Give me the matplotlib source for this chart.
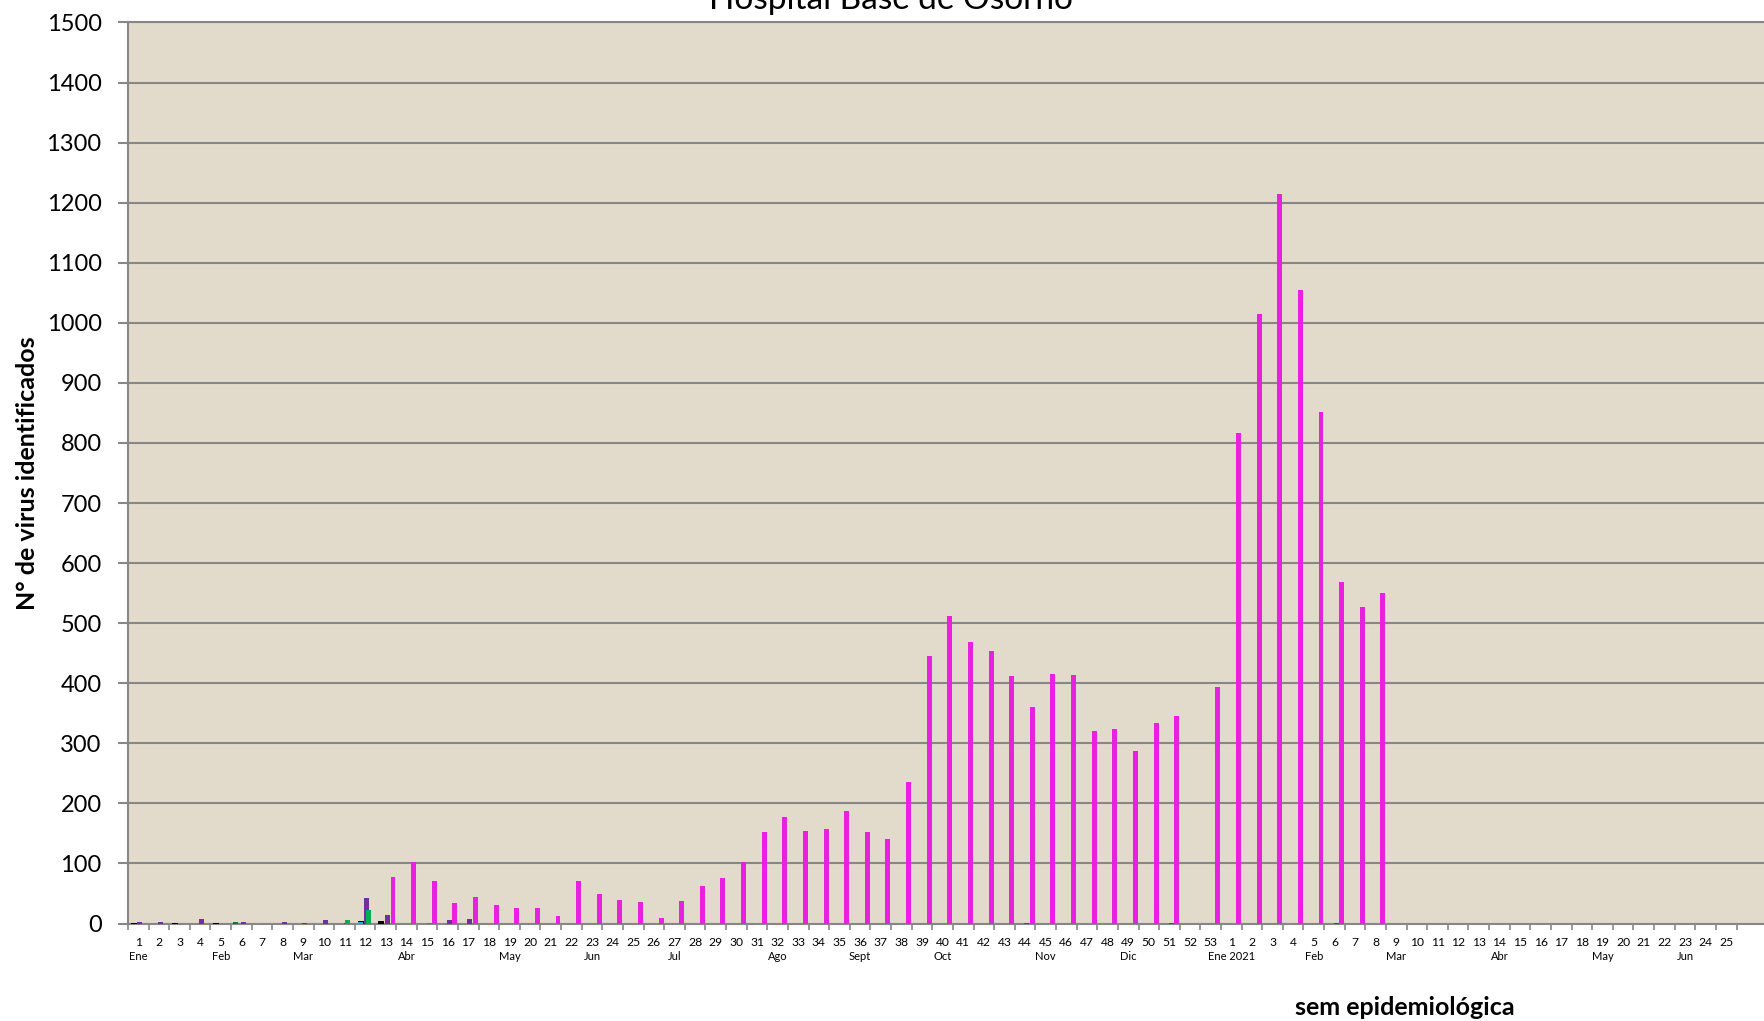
import numpy as np
import matplotlib
matplotlib.use('Agg')
import matplotlib.pyplot as plt
import matplotlib.transforms as mtransforms

plt.rcParams['font.family'] = ['Lato', 'DejaVu Sans']

# week labels: 2020 weeks 1..53, then 2021 weeks 1..25
weeks_2020 = list(range(1, 54))
weeks_2021 = list(range(1, 26))
week_labels = [str(w) for w in weeks_2020 + weeks_2021]
n = len(week_labels)

# month labels (category index starting at 1, label text)
month_pos = [1, 5, 9, 14, 19, 23, 27, 32, 36, 40, 45, 49,
             54, 58, 62, 67, 72, 76]
month_txt = ['Ene', 'Feb', 'Mar', 'Abr', 'May', 'Jun', 'Jul', 'Ago', 'Sept', 'Oct', 'Nov', 'Dic',
             'Ene 2021', 'Feb', 'Mar', 'Abr', 'May', 'Jun']

# main series (magenta), 2020 weeks 1..53
magenta_2020 = [0, 0, 0, 0, 0, 0, 0, 0, 0, 0, 0, 0, 77, 102, 71, 34, 44, 31, 25, 26,
                13, 71, 49, 39, 36, 9, 38, 62, 76, 102, 152, 178, 154, 157, 188, 153,
                140, 235, 445, 512, 469, 454, 412, 361, 416, 413, 321, 324, 287, 333,
                346, 0, 393]
# 2021 weeks 1..25
magenta_2021 = [817, 1014, 1215, 1055, 852, 569, 527, 551] + [0] * 17
magenta = magenta_2020 + magenta_2021

# small series, given as {category index: value}
gray_pts = {1: 1, 4: 1, 7: 1, 9: 1, 10: 1, 16: 1, 17: 1, 57: 1}
black_pts = {1: 1, 3: 1, 5: 1, 12: 4, 13: 4}
dkgreen_pts = {6: 2}
cyan_pts = {12: 2}
purple_pts = {1: 2, 2: 2, 4: 8, 6: 2, 8: 2, 9: 1, 10: 6, 11: 1, 12: 43, 13: 14,
              16: 5, 17: 8, 44: 1, 51: 1, 59: 1}
green_pts = {11: 6, 12: 22, 15: 1}


def expand(d):
    v = np.zeros(n)
    for k, val in d.items():
        v[k - 1] = val
    return v


x = np.arange(1, n + 1)

fig = plt.figure(figsize=(17.65, 10.21), dpi=100)
ax = fig.add_axes([128 / 1765, 97.5 / 1021, 1 - 128 / 1765, 901 / 1021])
ax.set_facecolor('#E2DACB')

bw = 0.24
ax.bar(x - 0.24, expand(gray_pts), bw, color='#8C8C8C', zorder=3)
ax.bar(x - 0.22, expand(black_pts), 0.3, color='black', zorder=3)
ax.bar(x - 0.29, expand(dkgreen_pts), bw, color='#0B7A2E', zorder=3)
ax.bar(x - 0.21, expand(cyan_pts), bw, color='#17B6D8', zorder=3)
ax.bar(x + 0.08, expand(purple_pts), bw, color='#7030A0', zorder=3)
ax.bar(x + 0.14, expand(green_pts), bw, color='#00B050', zorder=3)
ax.bar(x + 0.35, magenta, bw, color='#E820E0', zorder=3)

ax.set_ylim(0, 1500)
ax.set_xlim(0.5, 0.5 + (1765 - 128.2) / 20.62)
ax.set_yticks(np.arange(0, 1501, 100))
ax.yaxis.grid(True, color='#878787', linewidth=1.5, zorder=1)
ax.set_axisbelow(True)

ax.set_xticks(x)
ax.set_xticklabels(week_labels, fontsize=8.7)
ax.set_xticks(np.arange(0.5, n + 1, 1), minor=True)
ax.tick_params(axis='x', which='major', length=0, pad=10)
ax.tick_params(axis='x', which='minor', length=4, color='#878787', width=1.2)
ax.tick_params(axis='y', length=7, color='#878787', width=1.5, pad=12, labelsize=17)

for s in ['right']:
    ax.spines[s].set_visible(False)
for s in ['left', 'bottom', 'top']:
    ax.spines[s].set_color('#878787')
    ax.spines[s].set_linewidth(1.5)

trans = mtransforms.blended_transform_factory(ax.transData, ax.transAxes)
for p, t in zip(month_pos, month_txt):
    ax.text(p, -0.037, t, transform=trans, ha='center', va='center', fontsize=8)

fig.text(28 / 1765, 1 - 473 / 1021, 'N° de virus identificados', rotation=90,
         ha='center', va='center', fontsize=18, fontweight='bold')
fig.text(1405 / 1765, 1 - 1007 / 1021, 'sem epidemiológica',
         ha='center', va='center', fontsize=18, fontweight='bold')
fig.text(891 / 1765, 1 - 9 / 1021, 'Hospital Base de Osorno',
         ha='center', va='baseline', fontsize=24)

fig.savefig('out.png', dpi=100)
